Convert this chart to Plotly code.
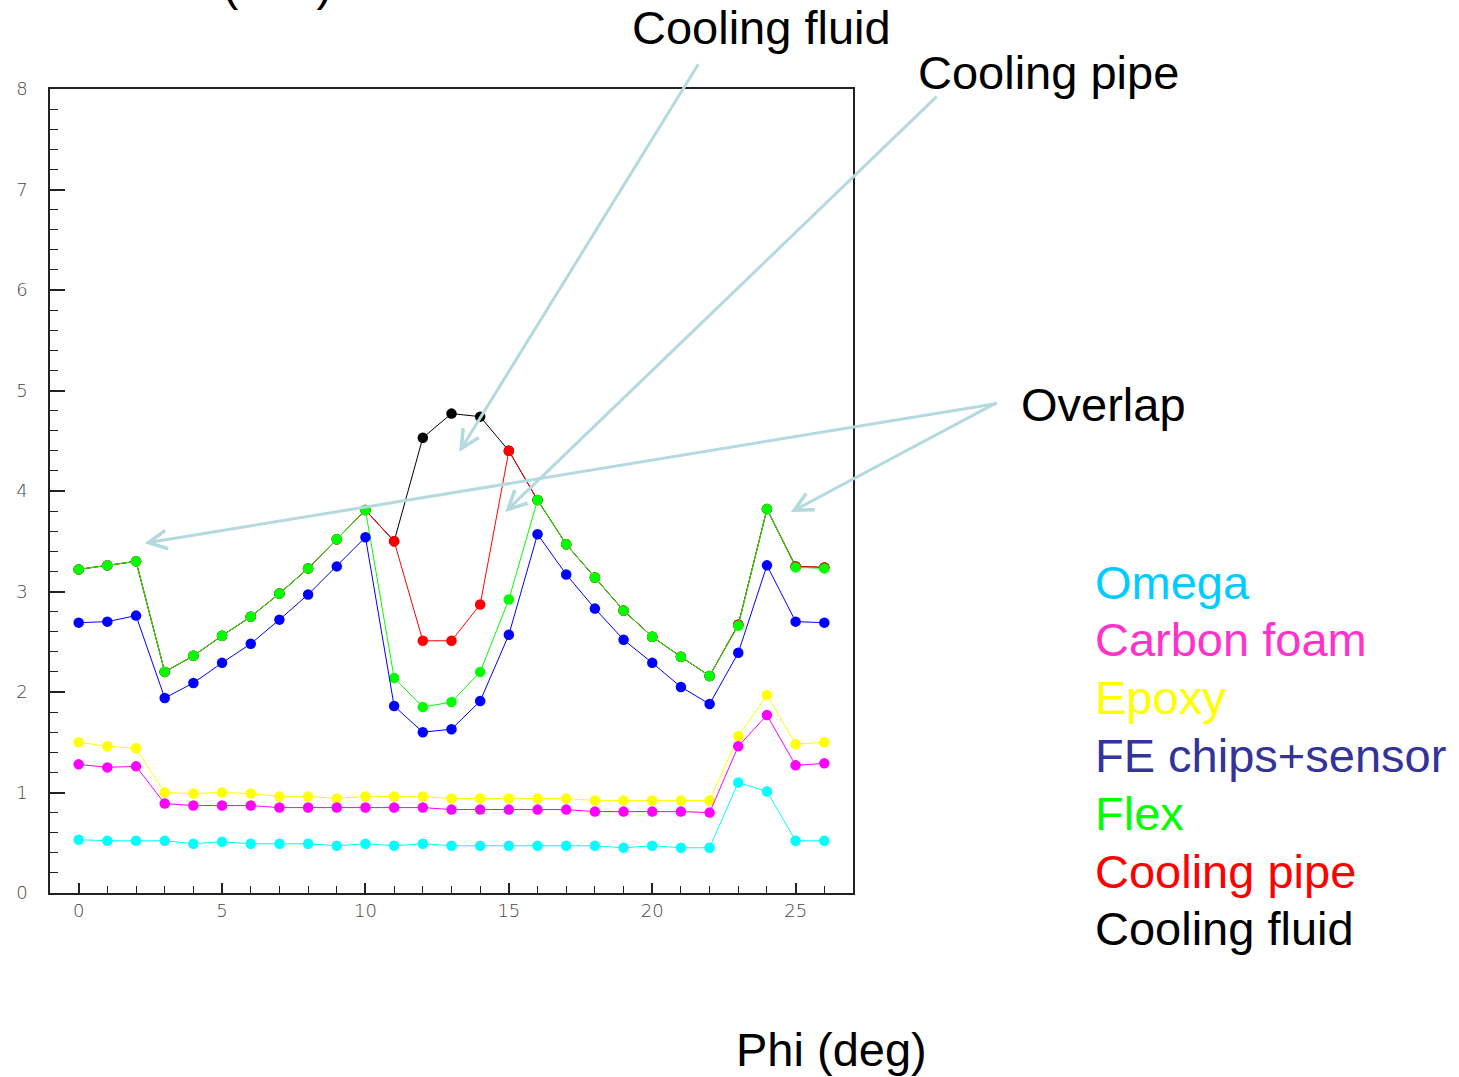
import plotly.graph_objects as go

# ---- data ----
phi = list(range(27))

omega = [0.53, 0.52, 0.52, 0.52, 0.49, 0.51, 0.49, 0.49, 0.49, 0.47, 0.49, 0.47, 0.49, 0.47,
         0.47, 0.47, 0.47, 0.47, 0.47, 0.45, 0.47, 0.45, 0.45, 1.10, 1.01, 0.52, 0.52]
carbon_foam = [1.28, 1.25, 1.26, 0.89, 0.87, 0.87, 0.87, 0.85, 0.85, 0.85, 0.85, 0.85, 0.85, 0.83,
               0.83, 0.83, 0.83, 0.83, 0.81, 0.81, 0.81, 0.81, 0.80, 1.46, 1.77, 1.27, 1.29]
epoxy = [1.50, 1.46, 1.44, 1.00, 0.99, 1.00, 0.99, 0.96, 0.96, 0.94, 0.96, 0.96, 0.96, 0.94,
         0.94, 0.94, 0.94, 0.94, 0.92, 0.92, 0.92, 0.92, 0.92, 1.56, 1.97, 1.48, 1.50]
fe_chips = [2.69, 2.70, 2.76, 1.94, 2.09, 2.29, 2.48, 2.72, 2.97, 3.25, 3.54, 1.86, 1.60, 1.63,
            1.91, 2.57, 3.57, 3.17, 2.83, 2.52, 2.29, 2.05, 1.88, 2.39, 3.26, 2.70, 2.69]
flex = [3.22, 3.26, 3.30, 2.20, 2.36, 2.56, 2.75, 2.98, 3.23, 3.52, 3.81, 2.14, 1.85, 1.90,
        2.20, 2.92, 3.91, 3.47, 3.14, 2.81, 2.55, 2.35, 2.16, 2.66, 3.82, 3.24, 3.23]
cooling_pipe = [3.22, 3.26, 3.30, 2.20, 2.36, 2.56, 2.75, 2.98, 3.23, 3.52, 3.81, 3.50, 2.51, 2.51,
                2.87, 4.40, 3.91, 3.47, 3.14, 2.81, 2.55, 2.35, 2.16, 2.67, 3.82, 3.25, 3.24]
cooling_fluid = [3.22, 3.26, 3.30, 2.20, 2.36, 2.56, 2.75, 2.98, 3.23, 3.52, 3.81, 3.50, 4.53, 4.77,
                 4.74, 4.40, 3.91, 3.47, 3.14, 2.81, 2.55, 2.35, 2.16, 2.67, 3.82, 3.25, 3.24]

legend_names = ["Omega", "Carbon foam", "Epoxy", "FE chips+sensor", "Flex", "Cooling pipe", "Cooling fluid"]
legend_colors = ["#00ccff", "#ff33cc", "#ffff00", "#333399", "#00ff00", "#ff0000", "#000000"]

x_ticks = [0, 5, 10, 15, 20, 25]
y_ticks = [0, 1, 2, 3, 4, 5, 6, 7, 8]

# drawing order: bottom first
series = [
    (cooling_fluid, "#000000"),
    (cooling_pipe, "#ff0000"),
    (flex, "#00ff00"),
    (fe_chips, "#0000ff"),
    (epoxy, "#ffff00"),
    (carbon_foam, "#ff00ff"),
    (omega, "#00ffff"),
]

W, H = 1459, 1077
L, R, T, B = 50, 853, 89, 893


def pxx(x):
    return (x - L) / (R - L)


def pxy(y):
    return (B - y) / (B - T)


fig = go.Figure()
for vals, col in series:
    fig.add_trace(go.Scatter(
        x=phi, y=vals, mode="lines+markers",
        line=dict(color=col, width=1),
        marker=dict(color=col, size=10.5, line=dict(width=0)),
        showlegend=False, hoverinfo="skip",
    ))

tickfont = dict(family="DejaVu Sans", size=18, color="#444444", weight=200)

fig.update_xaxes(
    range=[-1, 27], tickvals=x_ticks, ticks="inside", ticklen=10, tickwidth=1.5,
    tickcolor="#222222", showline=True, linecolor="#222222", linewidth=1.5, mirror=True,
    showgrid=False, zeroline=False, tickfont=tickfont, ticklabelstandoff=1,
    minor=dict(dtick=1, ticks="inside", ticklen=7, tickwidth=1.2, tickcolor="#222222", showgrid=False),
)
fig.update_yaxes(
    range=[0, 8], tickvals=y_ticks, ticks="inside", ticklen=15, tickwidth=1.5,
    tickcolor="#222222", showline=True, linecolor="#222222", linewidth=1.5, mirror=True,
    showgrid=False, zeroline=False, tickfont=tickfont, ticklabelstandoff=17,
    minor=dict(dtick=0.2, ticks="inside", ticklen=8, tickwidth=1.2, tickcolor="#222222", showgrid=False),
)

big = dict(family="Liberation Sans, Arial, sans-serif", size=47, color="#000000")
annotations = []

# top title (cut off at page top)
annotations.append(dict(text="Thickness (mm)", xref="paper", yref="paper", x=pxx(-4), y=pxy(12),
                        xanchor="left", yanchor="bottom", showarrow=False, font=big))
annotations.append(dict(text="Cooling fluid", xref="paper", yref="paper", x=pxx(761), y=pxy(28),
                        xanchor="center", yanchor="middle", showarrow=False, font=big))
annotations.append(dict(text="Cooling pipe", xref="paper", yref="paper", x=pxx(1048), y=pxy(72),
                        xanchor="center", yanchor="middle", showarrow=False, font=big))
annotations.append(dict(text="Overlap", xref="paper", yref="paper", x=pxx(1103), y=pxy(404),
                        xanchor="center", yanchor="middle", showarrow=False, font=big))
annotations.append(dict(text="Phi (deg)", xref="paper", yref="paper", x=pxx(831), y=pxy(1049),
                        xanchor="center", yanchor="middle", showarrow=False, font=big))

for i, (name, col) in enumerate(zip(legend_names, legend_colors)):
    annotations.append(dict(text=name, xref="paper", yref="paper", x=pxx(1093), y=pxy(582 + 57.8 * i),
                            xanchor="left", yanchor="middle", showarrow=False,
                            font=dict(family=big["family"], size=47, color=col)))

# arrows: tips in data coordinates, tails as pixel offsets
arrow_color = "#b4d9de"
arrows = [
    (13.27, 4.39, 240, -389),
    (14.87, 3.79, 433, -417),
    (2.30, 3.48, 854, -140),
    (24.83, 3.79, 207, -110),
]
for x, y, ax, ay in arrows:
    annotations.append(dict(text="", x=x, y=y, xref="x", yref="y", ax=ax, ay=ay,
                            showarrow=True, arrowhead=5, arrowsize=1.2, arrowwidth=3,
                            arrowcolor=arrow_color, standoff=0, startstandoff=0))

fig.update_layout(
    width=W, height=H,
    margin=dict(l=L, r=W - R, t=T, b=H - B, pad=0),
    paper_bgcolor="white", plot_bgcolor="white",
    annotations=annotations,
    showlegend=False,
)

fig.write_html("out.html", config={"displayModeBar": False},
               post_script="document.body.style.margin='0px';")
